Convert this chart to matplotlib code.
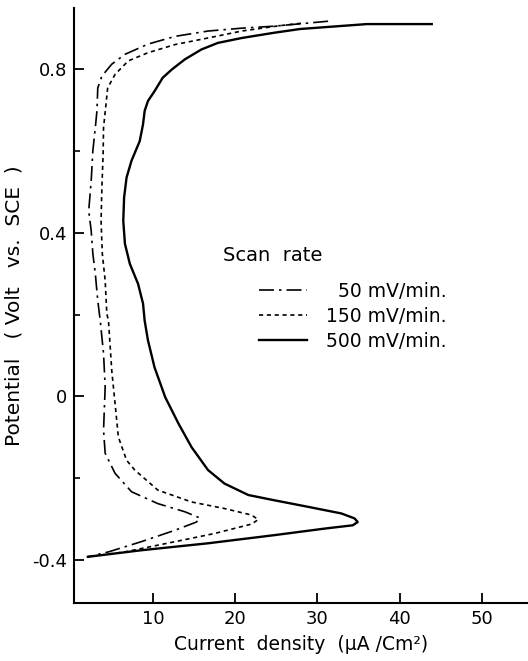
import matplotlib
matplotlib.use("Agg")
import matplotlib.pyplot as plt

plt.rcParams['font.family'] = ['DejaVu Sans']

# 500 mV/min (solid)
cur_500 = [43.9, 36.0, 27.9, 24.8, 20.8, 17.9, 15.9, 13.9, 12.3, 11.2, 10.2, 9.4, 9.0, 8.8,
           8.4, 7.4, 6.8, 6.5, 6.4, 6.6, 7.2, 8.2, 8.8, 9.0, 9.4, 10.2, 11.5, 13.1, 14.7,
           16.7, 18.7, 21.6, 24.8, 28.9, 32.9, 34.5, 34.9, 34.3, 30.9, 24.8, 16.7, 8.6, 2.1]
pot_500 = [0.91, 0.91, 0.898, 0.889, 0.876, 0.864, 0.848, 0.824, 0.799, 0.779, 0.746, 0.722, 0.698, 0.665,
           0.624, 0.576, 0.535, 0.486, 0.429, 0.373, 0.324, 0.275, 0.227, 0.185, 0.137, 0.071, -0.002, -0.066, -0.124,
           -0.18, -0.213, -0.241, -0.254, -0.27, -0.286, -0.298, -0.307, -0.315, -0.323, -0.339, -0.359, -0.376, -0.392]

# 150 mV/min (dotted)
cur_150 = [28.0, 25.4, 20.8, 16.7, 12.7, 9.4, 7.0, 5.4, 4.5, 4.3, 4.0, 3.95, 3.8, 3.7, 3.85, 4.2, 4.4,
           4.6, 5.0, 5.4, 5.8, 6.8, 7.8, 10.6, 14.7, 18.7, 22.0, 22.8, 22.0, 17.5, 12.7, 6.6, 2.1]
pot_150 = [0.912, 0.906, 0.893, 0.876, 0.86, 0.84, 0.82, 0.787, 0.754, 0.714, 0.657, 0.593, 0.51, 0.429, 0.349, 0.283, 0.202,
           0.185, 0.063, -0.017, -0.099, -0.156, -0.18, -0.229, -0.258, -0.274, -0.29, -0.301, -0.312, -0.335, -0.355, -0.38, -0.392]

# 50 mV/min (dash-dot)
cur_50 = [31.3, 24.8, 20.8, 16.7, 12.7, 9.4, 6.6, 5.0, 3.8, 3.3, 3.2, 3.0, 2.7, 2.5, 2.2, 2.5, 2.7, 3.0,
          3.3, 3.6, 4.0, 4.2, 4.0, 4.2, 5.4, 7.4, 10.6, 13.9, 15.7, 15.3, 12.7, 8.6, 4.6, 2.1]
pot_50 = [0.917, 0.905, 0.90, 0.893, 0.88, 0.861, 0.836, 0.812, 0.783, 0.754, 0.698, 0.657, 0.60, 0.527, 0.454, 0.405, 0.349, 0.30,
          0.234, 0.185, 0.105, 0.023, -0.083, -0.139, -0.188, -0.233, -0.262, -0.282, -0.297, -0.307, -0.327, -0.355, -0.38, -0.392]

fig = plt.figure(figsize=(5.28, 6.61), dpi=100)
ax = fig.add_axes([0.140, 0.0877, 0.86, 0.900])

ax.plot(cur_50, pot_50, color='black', lw=1.2, ls=(0, (9, 3, 1.5, 3)), label='  50 mV/min.',
        solid_joinstyle='round', dash_joinstyle='round')
ax.plot(cur_150, pot_150, color='black', lw=1.2, ls=(0, (2.5, 2.2)), label='150 mV/min.',
        solid_joinstyle='round', dash_joinstyle='round')
ax.plot(cur_500, pot_500, color='black', lw=1.7, ls='-', label='500 mV/min.',
        solid_joinstyle='round')

ax.set_xlim(0.4, 55.6)
ax.set_ylim(-0.505, 0.949)
ax.spines['top'].set_visible(False)
ax.spines['right'].set_visible(False)
ax.spines['left'].set_linewidth(1.5)
ax.spines['bottom'].set_linewidth(1.5)

ax.set_xticks([10, 20, 30, 40, 50])
ax.set_yticks([-0.4, 0, 0.4, 0.8])
ax.set_yticklabels(['-0.4', '0', '0.4', '0.8'])
ax.set_yticks([-0.2, 0.2, 0.6], minor=True)
ax.tick_params(axis='both', which='major', direction='in', length=7, width=1.3, labelsize=13, pad=5)
ax.tick_params(axis='y', which='minor', direction='in', length=4, width=1.2)

ax.set_xlabel('Current  density  (\u03bcA /Cm\u00b2)', fontsize=13.5, labelpad=5)
ax.set_ylabel('Potential   ( Volt   vs.  SCE  )', fontsize=14.5, labelpad=6)

ax.text(0.328, 0.585, 'Scan  rate', transform=ax.transAxes, fontsize=14, va='center', ha='left')
ax.legend(loc='upper left', bbox_to_anchor=(0.39, 0.553), frameon=False, fontsize=13.5,
          handlelength=2.6, labelspacing=0.32, handletextpad=1.0, borderaxespad=0)

fig.savefig('out.png', dpi=100)
